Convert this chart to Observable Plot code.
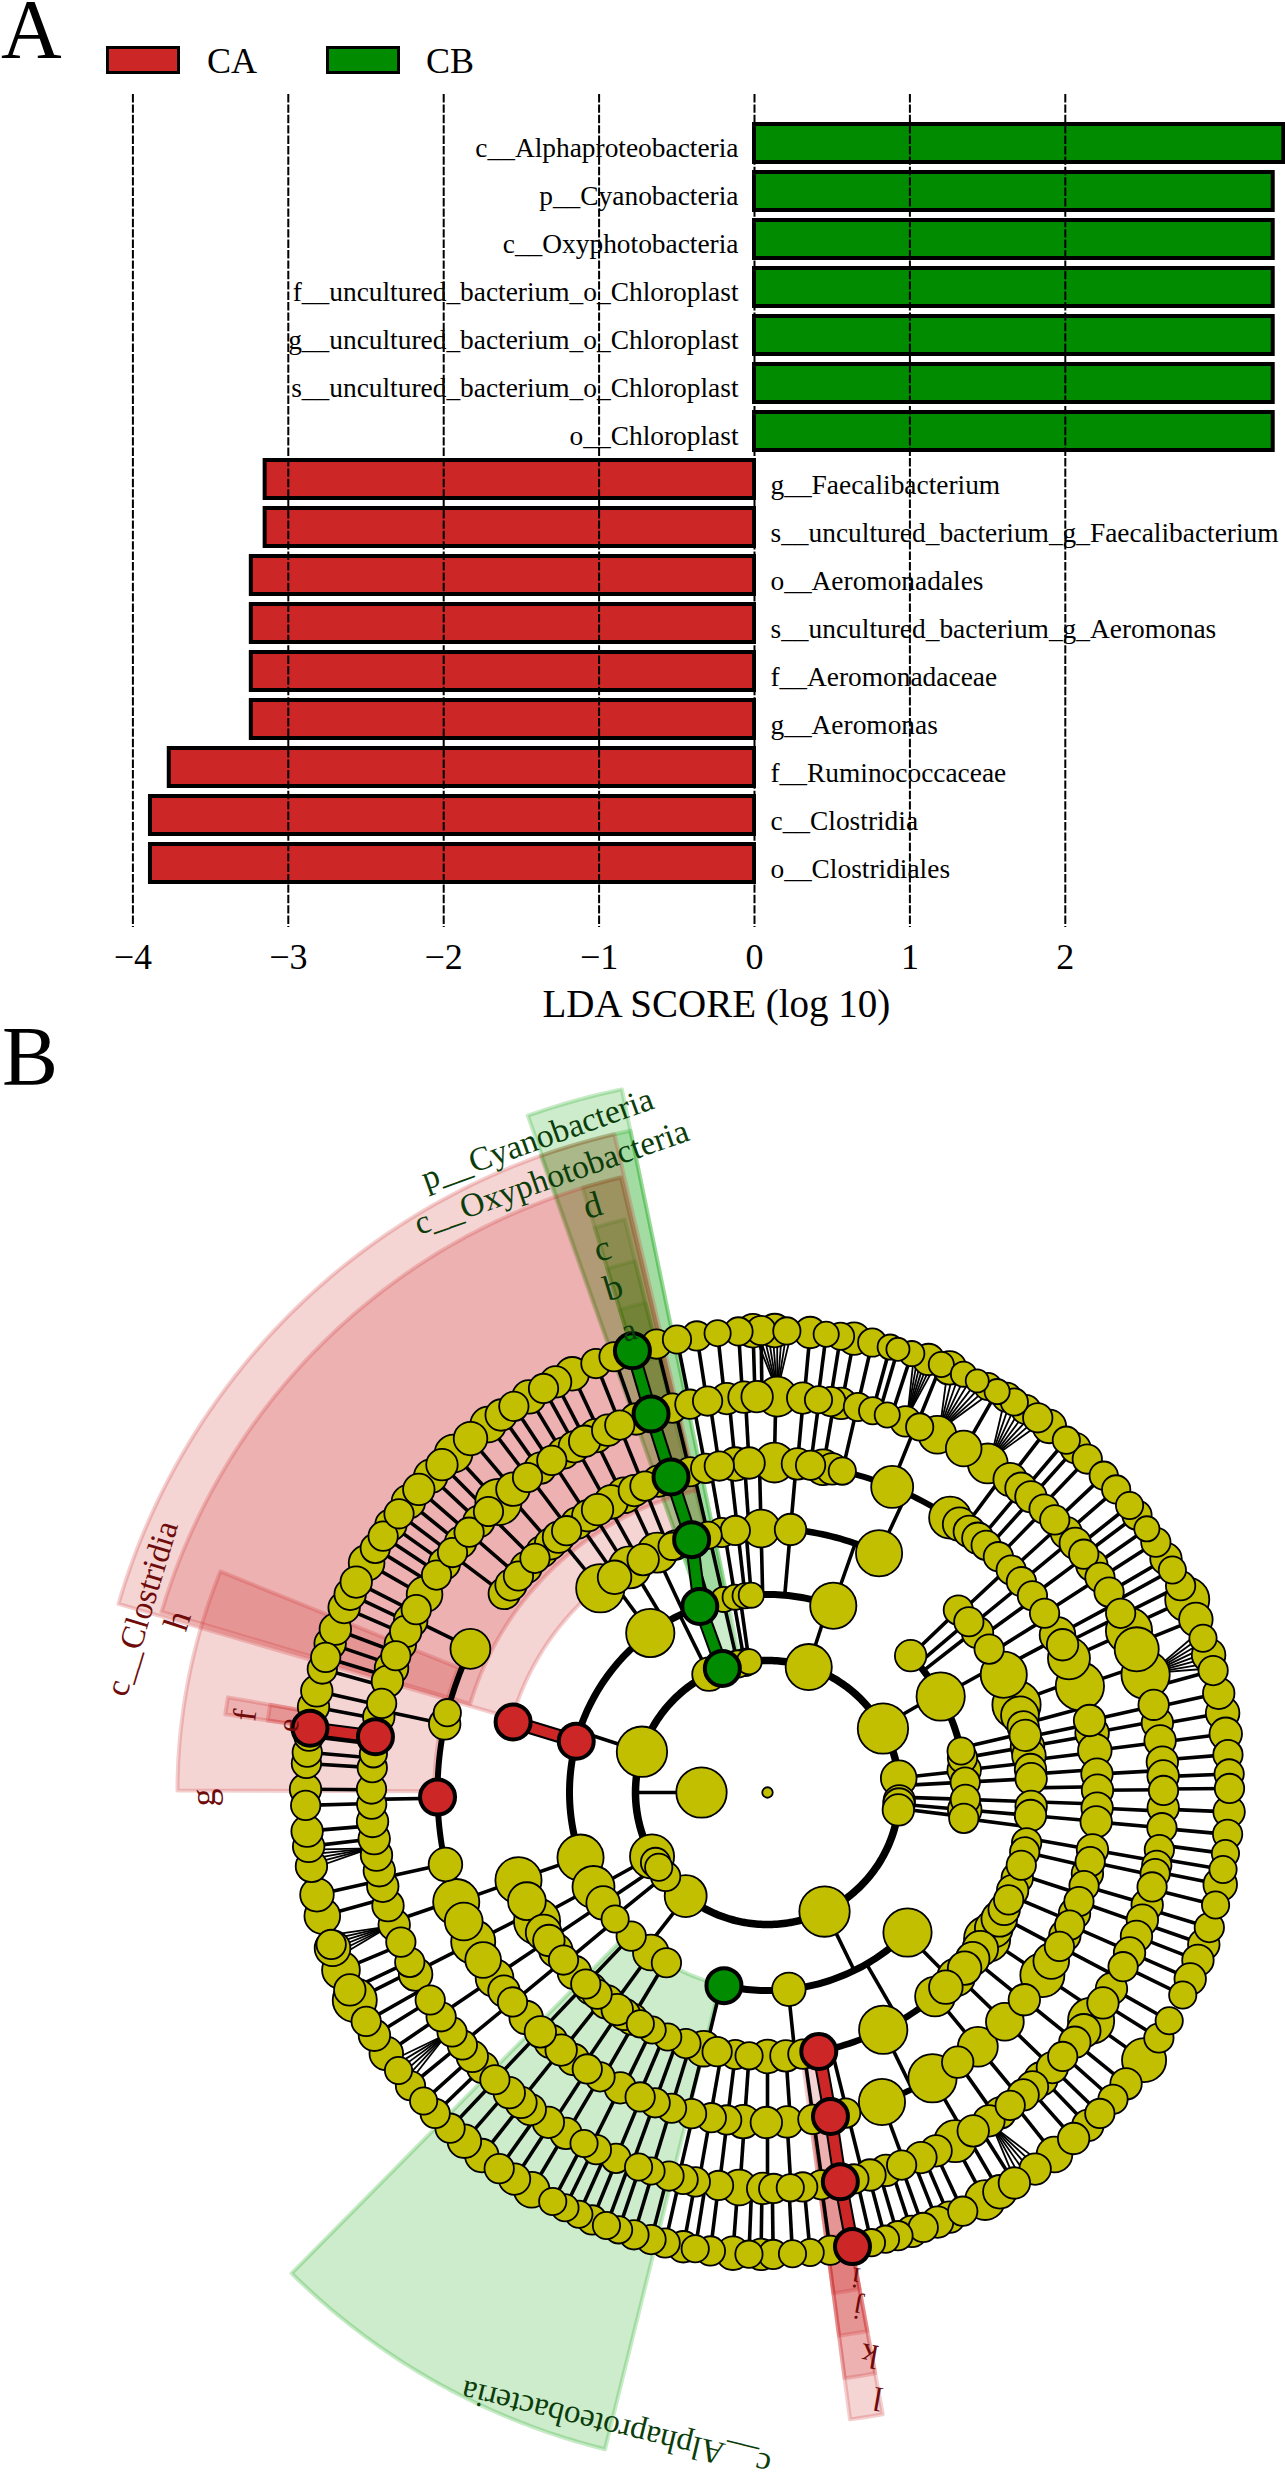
<!DOCTYPE html>
<html><head><meta charset="utf-8">
<script src="https://cdn.jsdelivr.net/npm/d3@7"></script>
<script src="https://cdn.jsdelivr.net/npm/@observablehq/plot@0.6"></script>
<style>
html,body{margin:0;padding:0;background:#fff}
#page{position:relative;width:1285px;height:2480px;overflow:hidden;font-family:"Liberation Serif",serif;color:#000}
#page svg{display:block;position:absolute;left:0}
.t{position:absolute;line-height:1;white-space:pre}
.sw{position:absolute;box-sizing:border-box;border:3.5px solid #000}
</style></head><body><div id="page">
<div class="t" style="left:1px;top:1px;font-size:84px;line-height:.7">A</div>
<div class="t" style="left:2px;top:1015px;font-size:84px">B</div>
<div class="sw" style="left:106px;top:46px;width:74px;height:28px;background:#CD2626"></div>
<div class="t" style="left:207px;top:43px;font-size:36px">CA</div>
<div class="sw" style="left:326px;top:46px;width:74px;height:28px;background:#008B00"></div>
<div class="t" style="left:426px;top:43px;font-size:36px">CB</div>
</div>
<script>
// ---------- Panel A data ----------
const taxa = ["c__Alphaproteobacteria","p__Cyanobacteria","c__Oxyphotobacteria","f__uncultured_bacterium_o_Chloroplast","g__uncultured_bacterium_o_Chloroplast","s__uncultured_bacterium_o_Chloroplast","o__Chloroplast","g__Faecalibacterium","s__uncultured_bacterium_g_Faecalibacterium","o__Aeromonadales","s__uncultured_bacterium_g_Aeromonas","f__Aeromonadaceae","g__Aeromonas","f__Ruminococcaceae","c__Clostridia","o__Clostridiales"];
const ldaScores = [3.406,3.338,3.338,3.338,3.338,3.338,3.338,-3.149,-3.149,-3.238,-3.238,-3.238,-3.238,-3.766,-3.887,-3.887];
const ldaTicks = [-4,-3,-2,-1,0,1,2];

// ---------- Panel B data: [angle clockwise from north, node radius] per taxonomic ring ----------
const ring7 = [[346.1,14],[348.7,13.5],[351.2,14],[353.8,12.5],[356.4,13.5],[358.2,16],[359.2,14],[0.9,16],[2.4,13],[5.3,15],[7.3,12],[9.1,13],[10.8,15.5],[13.1,13.5],[15.4,12],[16.4,11],[18.2,12],[20.4,15],[22.1,12],[23.2,16],[25.1,12],[27,11],[28.5,13],[29.8,12],[31.2,14],[32.3,13],[34,14],[35.8,14],[37.6,16],[40.3,13],[41.8,14.5],[43.8,14],[46.7,13.5],[49,13.5],[51.6,13],[53.1,14],[55.2,12],[57.2,14],[59.6,15],[61.2,13],[63.4,14],[65.3,21],[68,16],[70.5,13],[72.7,16],[74.7,14],[77.6,15],[80.1,16],[82.7,15.5],[85.3,14],[87.7,14],[89.5,14],[92.4,15],[95.2,14],[97.6,13],[99.6,13],[101.5,16],[104.1,13],[107,14],[109.2,15],[111.3,15],[113.8,15],[116,13],[119.6,13],[122.1,14],[125.4,21],[129.1,15],[131.6,14],[134,14],[136.1,15],[138.5,15],[141.6,17],[144.6,15],[147.7,15],[149.8,16],[151.9,19],[155,14],[156.8,15],[158.4,15],[160.3,14],[161.8,15],[163.6,14],[165.2,13],[167,13],[172.2,14],[174.7,13],[176.9,13],[179.3,14],[180.8,15],[182.3,13],[184.3,16],[187.1,14],[189,13],[190.5,15],[192.8,14],[194.6,14],[196.8,14],[198.8,13],[200.4,13],[202.3,14],[204.1,13],[206,13],[207.7,13],[210.7,17],[213.2,15],[215.5,14],[218.2,16],[221,16],[223.4,14],[226,14],[228.1,13],[230.6,14],[233,13],[235.6,16],[238.3,15],[240.3,14],[243.3,21],[244.7,15],[247.4,18],[250.3,17],[250.8,14],[254.5,17],[257.2,16],[260.8,15],[263.3,15],[265.2,15],[268.4,14],[270.4,15],[273.6,14],[275,14],[277,14],[280.7,15],[282.7,15],[285.5,14],[287,14],[288.8,15],[290.7,15],[293.6,15],[295.4,15],[297.1,15],[299.8,17],[301.9,14],[303.7,14],[305.4,15],[307.1,14],[309,16],[311,15],[313.2,16],[315.2,15],[317.2,18],[320,16],[322.8,17],[324.8,15],[326.7,14],[328.9,16],[331,14],[332.7,15],[335,16],[338.2,14],[340.6,14]];
const ring6 = [[346.1,14],[348.7,14],[351.3,14],[354.1,15],[356.6,15],[358.5,15],[1.4,19],[5.1,15],[7.4,13],[9.2,14],[10.7,15],[13.2,13.5],[15.4,13],[17.6,12],[20.4,14.5],[22.6,13],[25.4,18],[29.7,17],[33.8,19],[37.8,16],[39.8,15],[41.7,15],[44.3,14],[46.5,14],[49,15],[51,15],[53,14],[55,15],[57.1,14],[59.6,14],[63.1,14],[65.9,22],[68.8,21],[72.7,23],[77.2,14.5],[79.9,15],[82.5,15],[85.6,15],[87.6,15],[89.7,14],[92.2,15],[95.1,14],[98.3,14],[100.6,14],[101.8,14],[103.8,14],[106.5,15],[108.8,15],[111.3,15],[113.9,15],[116.1,14],[119.7,15],[122.1,15],[125.2,22],[127,16],[129.1,15],[131.8,14],[134,15],[136.3,16],[138,15],[139.8,15],[142.2,14],[144,15],[146,15],[148.7,15],[151.7,20],[154.8,15],[157.2,15],[160.2,14],[162.6,15],[165,15],[167.4,14],[172.2,14],[174.9,14],[176.7,13],[179.1,14],[180.7,15],[184.1,17],[187.1,14],[190.5,14],[192.3,14],[194.4,14],[197.1,13],[199,13],[202.5,14],[205.6,14],[207.6,13],[210.6,15],[213.6,15],[216.8,15],[218.5,15],[220.7,15],[223.5,14],[226,15],[228.2,15],[230.4,14],[232.8,14],[235.5,14],[238.4,14],[242.7,16],[244.6,14],[247.8,14],[250.5,15],[253.4,15],[256.3,15],[258.6,15],[260.9,15],[263.3,15],[265.8,15],[268.3,14],[270.5,14],[273.6,14],[275.6,13],[281,15],[283,14],[286.3,15],[288.3,16],[290.2,14],[292,15],[294,15],[295.7,16],[297.5,14],[300,17],[303.3,14],[305.3,15],[307.3,14],[309.2,15],[311.1,14],[313.2,15],[315.2,14],[317.2,22],[320,16],[322.7,14],[325,15],[327,14],[329,15],[330.8,15],[332.5,15],[334.3,16],[336.2,15],[338.1,14],[340.6,15]];
const ring5 = [[340.7,15],[346.4,14],[349.2,14],[351.6,14],[354.4,16],[356.8,15],[1.2,19],[5.2,15],[7.5,14],[9.7,17],[11.3,15],[13.1,13],[22.2,20],[33.6,20],[35.6,16],[37.7,15],[39.6,15],[41.5,14],[44.4,14],[47.6,14],[50.3,14],[53.4,14],[57.1,14],[61.5,17],[63.4,15],[66,20],[71.2,23],[77.4,15],[79.6,16],[82.7,16],[86.8,15],[89.6,15],[92.7,15],[95.1,15],[100,15],[102.1,14],[104.2,15],[106.4,14],[109.3,14],[111.5,15],[113.7,14],[115.7,15],[117.8,14],[120.7,17],[123.6,21],[128.9,15],[134,18],[140.4,19],[144.8,15],[150,23],[159.7,22],[166.3,14],[172.1,14],[176.6,15],[180.2,15],[184.2,16],[187.1,14],[189.8,14],[193.3,14],[196.9,14],[199.9,14],[202.7,14],[206.5,15],[210.5,14],[213.1,14],[216,15],[218.7,15],[221,16],[223.5,15],[227,16],[230.6,14],[233,15],[235.8,18],[239.5,17],[243.1,21],[247,18],[250.6,22],[257.4,16],[282,15],[284,13],[295.8,19],[307.1,15],[309,15],[311,14],[313,15],[315.2,14],[316.9,15],[318.9,15],[320.7,15],[322.5,14],[324.7,15],[327,15],[329,15],[331.7,16],[334.3,17],[336.2,15],[338.2,14]];
const ring4 = [[338.8,13],[347,13],[350,14],[353,14],[358.6,18],[5,15],[25,22],[46.3,14],[49.7,14],[52.7,15],[57.1,14],[63.5,22],[70.6,23],[73,18],[75.6,15],[77.5,15],[80,16],[82,16],[85,15],[87,15],[93,15],[95,15],[101,14],[103,14],[106,14],[108.9,15],[111.8,15],[114,14],[116.3,15],[118.6,17],[121,18],[123.7,22],[126.3,17],[129,16],[131.7,16],[134.4,18],[137.5,16],[140.6,19],[154,23],[172.3,14],[176,15],[180,16],[184,13],[187,14],[191,14],[194,17],[198,14],[202.2,13],[205.9,13],[208.8,13],[210.9,15],[212.8,15],[214.7,15],[217.5,16],[220.2,14],[222,15],[223.5,14],[227,16],[230.6,14],[233.3,16],[235.9,15],[238,17],[240.8,22],[245.7,18],[250.6,22],[320.7,23],[324.6,16],[328.5,20],[331.9,15],[335.3,19],[339.5,14]];
const ring3 = [[347.2,12],[350.6,12],[353.5,12],[355.3,12],[19.4,22],[46.3,15],[61,23],[77.9,13],[80,14],[83.5,16],[87,14],[92,14],[95,16],[97.5,14],[135,23],[173.8,16],[210.7,14],[216.1,17],[223.5,14],[230.3,13],[236.1,16],[241.5,20],[250.8,22],[323.7,23]];
const ring2 = [[333.7,16],[350.3,13],[347,13],[352,12],[18.2,22],[61,24],[83.8,17],[93.6,15],[95,15],[97.6,15],[154.4,24],[218.3,20],[230.5,14],[235.5,13],[238,14],[241,21],[288,24]];
const ring1 = [[270,24]];
const rootDot = [[0,5]];

// highlighted nodes: [ring, angle]
const greenNodes = [[7,343],[6,342.9],[5,343],[4,343.3],[3,340],[2,340],[3,192.7]];
const redNodes = [[7,278],[6,278.1],[4,285.5],[3,285],[5,269.2],[7,169.4],[6,169.4],[5,169],[4,168.8]];

// thick arcs: [ring, from, to]
const arcs = [[2,0,360],[3,250,380],[3,46,97],[3,135,193],[3,210,250],[4,343,385],[4,46,106],[4,111,154],[4,154,169],[4,172,250],[4,320,343],[5,343,432],[5,437,463],[5,466,510],[5,510,520],[5,526,563],[5,563,610],[5,257,296],[5,307,343]];

// thin radial spokes: angles per band, the band ending on the given ring
const band2 = [270];
const band3 = [18,60,83.7,87,92,95,97,154,218,231,236,241,288,340,333.7,347,350,352];
const band4 = [343,347.2,350.6,353.5,355.3,358.6,5,19.4,46.3,49.5,52,61,77,80,83.5,87,92,95,97.5,135.5,150,174,193.5,211,216,223.5,230,236,241.5,250.8,285.5,323.7,329,335];
const band5 = [343,347,350,353.5,356,358.6,5,25,47,50.7,54,58,62,70,75,78,80,83,86,89,92,95,100,103,108,113,118,123.6,129,134,140.5,154,166,172,176,180,184,187,190,194,197,200,203,206,210,214,218.5,223.5,230.5,236,243,250.6,320.7,325,328,331,335,338];
const band6 = [343,346.4,349.2,351.6,354.4,356.8,1.2,5.2,7.5,9.7,13.1,22,36.6,40,42,44.4,47.6,50.3,53.4,57.1,61.5,63.4,66,71.2,77.4,79.6,82.7,86.8,89.6,92.7,95.1,100,102.1,106.4,109.3,113.7,117.8,123.6,128.9,134,140.4,144.8,150,159.7,166,172,176.6,180,184,187,190,193,197,200,202.5,206.5,210.5,213,218.7,223.5,230.6,235.8,243,251,257.5,269,282,296,307,311,315,319,323,327,331,334,338];

// fans from a ring-6 parent to closely spaced ring-7 children: [parent angle, child angles]
const fans = [[1.4,[-1.8,-1.2,-0.6,0,0.6,1.2,1.8,2.4,3]],[20.4,[18.5,19,19.5,20,20.5,21,21.5]],[25.4,[23,23.8,24.6,25.4,26.2,27,27.8,28.6,29.4]],[33.8,[31,31.8,32.6,33.4,34.2,35,35.8,36.6]],[72.7,[69.5,70.2,70.9,71.6,72.3,73,73.7,74.4]],[146,[143.5,144.3,145.1,145.9,146.7,147.5]],[233,[231,231.7,232.4,233.1,233.8,234.5]],[250.5,[249,249.6,250.2,250.8,251.4,252]],[262,[260.5,261.1,261.7,262.3,262.9]]];

// connected coloured paths: [ring, angle, ring, angle]
const greenPath = [[2,340,3,340],[3,340,4,343.3],[4,343.3,5,343],[5,343,6,342.9],[6,342.9,7,343]];
const redPath = [[3,285,4,285.5],[6,278.1,7,278],[4,168.8,5,169],[5,169,6,169.4],[6,169.4,7,169.4]];

// clade shading: [from, to, inner ring, outer ring]
const redClades = [[286.2,346.9,4.03,10.24],[286.6,346.6,4.7,9.58],[270.2,292,5.05,8.94],[278.2,280,6.9,8.3],[278.2,280,6.9,7.65],[169.5,172.5,4,9.58],[169.5,172.5,4.8,8.95],[169.5,172.5,5.8,8.3],[169.5,172.5,6.8,7.65]];
const greenClades = [[193.9,224.7,3,10.25],[340.5,348.3,2.1,10.88],[340.4,348.3,3,10.24],[343,346.6,4,9.58],[343,346,5,8.95],[343,346,6,8.3],[343,346,6.8,7.65]];

// clade labels: [text, angle, ring, rotation, size]
const greenLabels = [["p__Cyanobacteria",340.6,10.5,-19.7,33.5],["c__Oxyphotobacteria",340.65,9.88,-19.3,33.5],["c__Alphaproteobacteria",193.4,9.9,193.7,33],["d",343.4,9.28,-17,36],["c",343.1,8.61,-17,36],["b",343,8,-17,36],["a",343.3,7.31,-17,32]];
const redLabels = [["c__Clostridia",286.4,9.88,-73.3,33.5],["h",286.25,9.31,-72,36],["g",269.5,8.55,-90,36],["f",278.4,8,-83,33],["e",278,7.33,-83,30],["i",169.7,7.47,190,30],["j",170.1,7.94,190,30],["k",169.7,8.67,190,34],["l",169.7,9.33,190,34]];

const CA="#CD2626", CB="#008B00", YEL="#C1BF00", SERIF="Liberation Serif, serif";
const page=document.getElementById("page");

// ---------- Panel A ----------
const bars = taxa.map((t,i)=>({t,v:ldaScores[i]}));
const A = Plot.plot({
  width:1285,height:1040,marginLeft:0,marginRight:0,marginTop:94,marginBottom:113,
  style:{fontFamily:SERIF,background:"transparent",color:"#000"},
  x:{domain:[-4.852,3.417],ticks:ldaTicks,label:null},
  y:{type:"band",domain:taxa,range:[119,887],paddingInner:0.2,paddingOuter:0.1,axis:null},
  marks:[
    Plot.barX(bars,{y:"t",x1:0,x2:"v",fill:d=>d.v<0?CA:CB,stroke:"#000",strokeWidth:4,inset:0}),
    Plot.ruleX(ldaTicks,{stroke:"#000",strokeWidth:2,strokeDasharray:"8.4,2"}),
    Plot.text(bars.filter(d=>d.v>0),{y:"t",x:0,text:"t",textAnchor:"end",dx:-16,dy:5,fontSize:27.4,fill:"#000"}),
    Plot.text(bars.filter(d=>d.v<0),{y:"t",x:0,text:"t",textAnchor:"start",dx:16,dy:6,fontSize:27.4,fill:"#000"}),
    Plot.axisX({anchor:"bottom",ticks:ldaTicks,tickSize:0,tickPadding:16,fontSize:36,label:null,fill:"#000"}),
    Plot.text(["LDA SCORE (log 10)"],{x:-0.245,frameAnchor:"bottom",dy:89,fontSize:39,fill:"#000"})
  ]
});
A.style.top="0px";
page.appendChild(A);

// ---------- Panel B ----------
const RAD=Math.PI/180;
const pol=(ring,a)=>({x:ring*Math.sin(a*RAD),y:ring*Math.cos(a*RAD)});
const nodeRows=(list,ring)=>list.map(([a,size])=>({...pol(ring,a),size}));
const allNodes=[...nodeRows(rootDot,0),...nodeRows(ring1,1),...nodeRows(ring2,2),...nodeRows(ring3,3),...nodeRows(ring4,4),...nodeRows(ring5,5),...nodeRows(ring6,6),...nodeRows(ring7,7)];
const linkRow=(r1,a1,r2,a2)=>{const p=pol(r1,a1),q=pol(r2,a2);return{x1:p.x,y1:p.y,x2:q.x,y2:q.y}};
const spokes=[
  ...band2.map(a=>linkRow(1,a,2,a)),...band3.map(a=>linkRow(2,a,3,a)),...band4.map(a=>linkRow(3,a,4,a)),
  ...band5.map(a=>linkRow(4,a,5,a)),...band6.map(a=>linkRow(5,a,6,a)),
  ...ring7.filter(([a])=>!fans.some(([,c])=>a>=c[0]&&a<=c[c.length-1])).map(([a])=>linkRow(6,a,7,a))
];
const fanLinks=fans.flatMap(([p,cs])=>cs.map(c=>linkRow(6.08,p,7,c)));
const arcPts=([ring,a0,a1])=>d3.range(a0,a1+0.5,1).map(a=>pol(ring,a));
const sectorPts=([a0,a1,r0,r1])=>{
  const out=d3.range(a0,a1,0.5).concat([a1]).map(a=>pol(r1,a));
  const back=d3.range(a1,a0,-0.5).concat([a0]).map(a=>pol(r0,a));
  return [...out,...back,out[0]];
};
const sectorMark=color=>s=>Plot.line(sectorPts(s),{x:"x",y:"y",fill:color,fillOpacity:0.2,stroke:color,strokeOpacity:0.22,strokeWidth:4,curve:"linear"});
const arcWidth={2:7.5,3:7,4:6.5,5:6};
const labelRows=list=>list.map(([t,a,ring,rot,size])=>({t,...pol(ring,a),rot,size}));
const labelMarks=(list,color)=>labelRows(list).map(d=>Plot.text([d],{x:"x",y:"y",text:"t",rotate:d.rot,fontSize:d.size,fill:color}));
const hi=list=>list.map(([ring,a])=>pol(ring,a));

const B = Plot.plot({
  width:1285,height:1440,margin:0,
  style:{fontFamily:SERIF,background:"transparent"},
  x:{domain:[-767/66,518/66],range:[0,1285],axis:null},
  y:{domain:[-688/66,752/66],range:[1440,0],axis:null},
  r:{type:"linear",domain:[0,24],range:[0,25.2]},
  marks:[
    ...greenClades.map(sectorMark("#00A000")),
    ...redClades.map(sectorMark("#CD2626")),
    Plot.link(spokes,{x1:"x1",y1:"y1",x2:"x2",y2:"y2",stroke:"#000",strokeWidth:3.6}),
    Plot.link(fanLinks,{x1:"x1",y1:"y1",x2:"x2",y2:"y2",stroke:"#000",strokeWidth:1.8}),
    ...arcs.map(s=>Plot.line(arcPts(s),{x:"x",y:"y",stroke:"#000",strokeWidth:arcWidth[s[0]],curve:"linear"})),
    Plot.link(greenPath.map(d=>linkRow(...d)),{x1:"x1",y1:"y1",x2:"x2",y2:"y2",stroke:"#000",strokeWidth:14}),
    Plot.link(redPath.map(d=>linkRow(...d)),{x1:"x1",y1:"y1",x2:"x2",y2:"y2",stroke:"#000",strokeWidth:14}),
    Plot.link(greenPath.map(d=>linkRow(...d)),{x1:"x1",y1:"y1",x2:"x2",y2:"y2",stroke:CB,strokeWidth:10}),
    Plot.link(redPath.map(d=>linkRow(...d)),{x1:"x1",y1:"y1",x2:"x2",y2:"y2",stroke:CA,strokeWidth:10}),
    Plot.dot(allNodes,{x:"x",y:"y",r:"size",fill:YEL,stroke:"#000",strokeWidth:1.8}),
    Plot.dot(hi(greenNodes),{x:"x",y:"y",r:17.5,fill:CB,stroke:"#000",strokeWidth:4}),
    Plot.dot(hi(redNodes),{x:"x",y:"y",r:17.5,fill:CA,stroke:"#000",strokeWidth:4}),
    ...labelMarks(greenLabels,"#0B3D0B"),
    ...labelMarks(redLabels,"#6E0B0B")
  ]
});
B.style.top="1040px";
page.appendChild(B);
</script></body></html>
